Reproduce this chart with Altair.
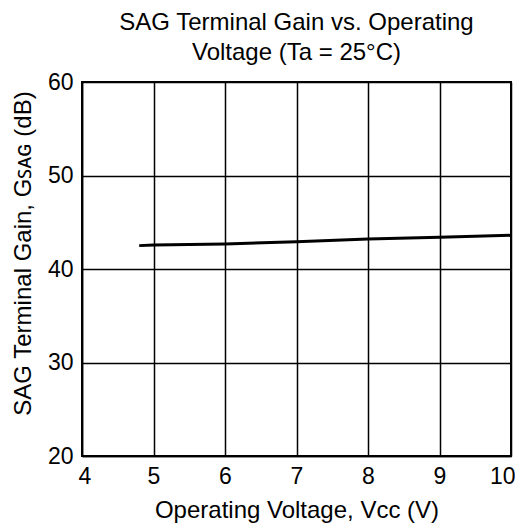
import altair as alt
import pandas as pd

voltage = [4.8, 5.0, 6.0, 7.0, 8.0, 9.0, 10.0]
gain_db = [42.5, 42.57, 42.67, 42.92, 43.2, 43.4, 43.6]

x_ticks = [4, 5, 6, 7, 8, 9, 10]
y_ticks = [20, 30, 40, 50, 60]

df = pd.DataFrame({"v": voltage, "g": gain_db})

FONT = "Liberation Sans"

chart = alt.Chart(df).mark_line(color="black", strokeWidth=3, clip=True).encode(
    x=alt.X("v:Q",
            scale=alt.Scale(domain=[4, 10], nice=False, zero=False),
            axis=alt.Axis(values=x_ticks, title="Operating Voltage, Vᴄᴄ (V)",
                          labelFlush=True, labelFlushOffset=4,
                          titleY=61, titleBaseline="alphabetic")),
    y=alt.Y("g:Q",
            scale=alt.Scale(domain=[20, 60], nice=False, zero=False),
            axis=alt.Axis(values=y_ticks, title="SAG Terminal Gain, Gꜱᴀɢ (dB)",
                          labelFlush=False,
                          titleX=-52, titleY=171, titleAlign="center",
                          titleBaseline="alphabetic", titleAngle=-90)),
).properties(
    width=429,
    height=374,
    background="white",
    title=alt.TitleParams(["SAG Terminal Gain vs. Operating", "Voltage (Ta = 25°C)"],
                          anchor="middle", font=FONT, fontSize=24,
                          fontWeight="normal", color="black", offset=6,
                          lineHeight=30),
    autosize=alt.AutoSizeParams(type="none"),
    padding={"left": 74, "top": 74, "right": 4, "bottom": 67},
).configure_axis(
    grid=True, gridColor="black", gridWidth=1.5, gridOpacity=1,
    domain=True, domainColor="black", domainWidth=1.5,
    ticks=False, labelPadding=9, labelOverlap=False,
    labelFont=FONT, labelFontSize=23, labelColor="black",
    titleFont=FONT, titleFontSize=24, titleFontWeight="normal", titleColor="black",
).configure_view(
    stroke="black", strokeWidth=2
)

chart.save("out.html", embed_options={"renderer": "svg", "actions": False})
